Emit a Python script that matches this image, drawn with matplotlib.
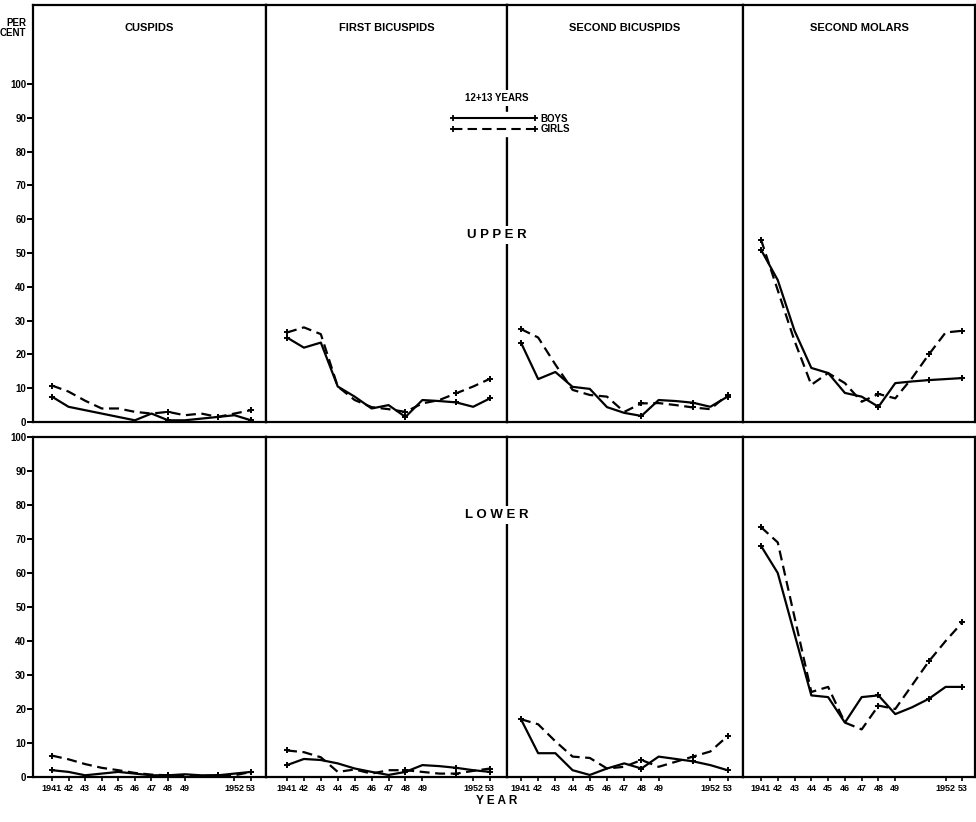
import matplotlib.pyplot as plt
from matplotlib.lines import Line2D

years = [1941, 1942, 1943, 1944, 1945, 1946, 1947, 1948, 1949, 1950, 1951, 1952, 1953]
tick_years = [1941, 1942, 1943, 1944, 1945, 1946, 1947, 1948, 1949, 1952, 1953]
tick_labels = ["1941", "42", "43", "44", "45", "46", "47", "48", "49", "1952", "53"]
teeth = ["CUSPIDS", "FIRST BICUSPIDS", "SECOND BICUSPIDS", "SECOND MOLARS"]

# upper jaw, per cent by year
upper_cuspids_boys = [7.5, 4.5, 3.5, 2.5, 1.5, 0.5, 2.5, 0.5, 0.5, 1.0, 1.5, 2.0, 0.5]
upper_cuspids_girls = [10.8, 9.0, 6.3, 4.0, 4.0, 3.0, 2.5, 3.0, 2.0, 2.5, 1.5, 2.5, 3.5]
upper_first_bic_boys = [25, 22, 23.5, 10.5, 7.5, 4.0, 5.0, 1.5, 6.5, 6.2, 5.8, 4.5, 7.0]
upper_first_bic_girls = [26.5, 28, 26, 10.5, 6.5, 4.4, 3.8, 3.0, 5.5, 6.5, 8.5, 10.5, 12.8]
upper_second_bic_boys = [23.5, 12.7, 14.8, 10.4, 9.8, 4.4, 2.7, 1.8, 6.5, 6.2, 5.7, 4.5, 7.5]
upper_second_bic_girls = [27.5, 25, 17, 9.5, 8.0, 7.5, 3.0, 5.5, 5.6, 5.0, 4.3, 3.8, 8.0]
upper_molars_boys = [51, 42, 27, 16, 14.5, 8.6, 7.5, 4.5, 11.5, 12, 12.4, 12.7, 13]
upper_molars_girls = [54, 39, 24, 11, 14.5, 11.5, 6.0, 8.3, 7.0, 13, 20, 26.5, 27]

# lower jaw
lower_cuspids_boys = [2.0, 1.5, 0.5, 1.0, 1.5, 1.0, 0.5, 0.5, 0.8, 0.5, 0.5, 1.0, 1.5]
lower_cuspids_girls = [6.3, 5.2, 3.8, 2.7, 2.0, 1.2, 0.7, 0.5, 0.5, 0.3, 0.5, 0.5, 1.5]
lower_first_bic_boys = [3.5, 5.3, 5.0, 4.0, 2.5, 1.5, 0.6, 1.5, 3.5, 3.2, 2.7, 2.0, 1.5]
lower_first_bic_girls = [7.8, 7.3, 5.8, 1.5, 2.2, 1.0, 2.0, 2.0, 1.5, 1.0, 1.0, 1.8, 2.5]
lower_second_bic_boys = [17, 7.0, 7.0, 2.0, 0.6, 2.5, 4.0, 2.5, 6.0, 5.3, 4.6, 3.5, 2.0]
lower_second_bic_girls = [17, 15.5, 10.5, 6.0, 5.6, 2.5, 3.0, 5.0, 3.0, 4.5, 6.0, 7.5, 12]
lower_molars_boys = [68, 60, 42, 24, 23.5, 16, 23.5, 24, 18.5, 20.5, 23, 26.5, 26.5]
lower_molars_girls = [73.5, 69, 47, 25, 26.5, 16, 14, 21, 20, 27, 34, 40, 45.5]

upper = [(upper_cuspids_boys, upper_cuspids_girls),
         (upper_first_bic_boys, upper_first_bic_girls),
         (upper_second_bic_boys, upper_second_bic_girls),
         (upper_molars_boys, upper_molars_girls)]
lower = [(lower_cuspids_boys, lower_cuspids_girls),
         (lower_first_bic_boys, lower_first_bic_girls),
         (lower_second_bic_boys, lower_second_bic_girls),
         (lower_molars_boys, lower_molars_girls)]

W, H = 976, 822
col_px = [33, 266, 507, 743, 975]
xlims = [(1939.86, 1953.9), (1939.76, 1954.0), (1940.19, 1953.9), (1939.93, 1953.75)]
mark_idx = [0, 7, 10, 12]

plt.rcParams["font.family"] = ["Liberation Sans", "DejaVu Sans"]
plt.rcParams["font.weight"] = "bold"

fig = plt.figure(figsize=(W / 100, H / 100), dpi=100)


def draw(ax, boys, girls):
    ax.plot(years, boys, color="black", lw=1.6, marker="+", ms=4.5, mew=1.4,
            markevery=mark_idx)
    ax.plot(years, girls, color="black", lw=1.6, dashes=(4.5, 2.5), marker="+",
            ms=4.5, mew=1.4, markevery=mark_idx)
    for s in ax.spines.values():
        s.set_linewidth(1.6)


for i in range(4):
    x0 = col_px[i] / W
    w = (col_px[i + 1] - col_px[i]) / W

    ax = fig.add_axes([x0, 1 - 422 / H, w, (422 - 5) / H])
    draw(ax, *upper[i])
    ax.set_xlim(*xlims[i])
    ax.set_ylim(0, 123.4)
    ax.set_xticks([])
    if i == 0:
        ax.set_yticks(range(0, 101, 10))
        ax.tick_params(axis="y", direction="out", length=4, width=1.4,
                       labelsize=7, pad=1)
    else:
        ax.set_yticks([])
    fig.text(x0 + w / 2, 1 - 28 / H, teeth[i], ha="center", va="center",
             fontsize=8, fontweight="bold")

    ax = fig.add_axes([x0, 1 - 777 / H, w, 340 / H])
    draw(ax, *lower[i])
    ax.set_xlim(*xlims[i])
    ax.set_ylim(0, 100)
    ax.set_xticks(tick_years)
    ax.set_xticklabels(tick_labels, fontsize=6.5)
    ax.tick_params(axis="x", direction="out", length=3, width=1.2, pad=2)
    if i == 0:
        ax.set_yticks(range(0, 101, 10))
        ax.tick_params(axis="y", direction="out", length=4, width=1.4,
                       labelsize=7, pad=1)
    else:
        ax.set_yticks([])

white = dict(facecolor="white", edgecolor="none", pad=2)
fig.text(26 / W, 1 - 28 / H, "PER\nCENT", ha="right", va="center",
         fontsize=7, fontweight="bold", linespacing=1.0)
fig.text(497 / W, 1 - 98 / H, "12+13 YEARS", ha="center", va="center",
         fontsize=7, fontweight="bold", bbox=white, zorder=5)
fig.text(497 / W, 1 - 235 / H, "U P P E R", ha="center", va="center",
         fontsize=9.5, fontweight="bold", bbox=white, zorder=5)
fig.text(497 / W, 1 - 515 / H, "L O W E R", ha="center", va="center",
         fontsize=9.5, fontweight="bold", bbox=white, zorder=5)
fig.text(497 / W, 1 - 801 / H, "Y E A R", ha="center", va="center",
         fontsize=8.5, fontweight="bold")

handles = [Line2D([], [], color="black", lw=1.5, marker="+", ms=4.5, mew=1.3),
           Line2D([], [], color="black", lw=1.5, dashes=(4.5, 2.5), marker="+",
                  ms=4.5, mew=1.3)]
fig.legend(handles, ["BOYS", "GIRLS"], loc="center",
           bbox_to_anchor=(510 / W, 1 - 124 / H), numpoints=2,
           handlelength=9, handletextpad=0.3, labelspacing=0.05,
           borderpad=0.2, fontsize=7, frameon=True, framealpha=1,
           edgecolor="white", fancybox=False)

fig.savefig("out.png", dpi=100)
